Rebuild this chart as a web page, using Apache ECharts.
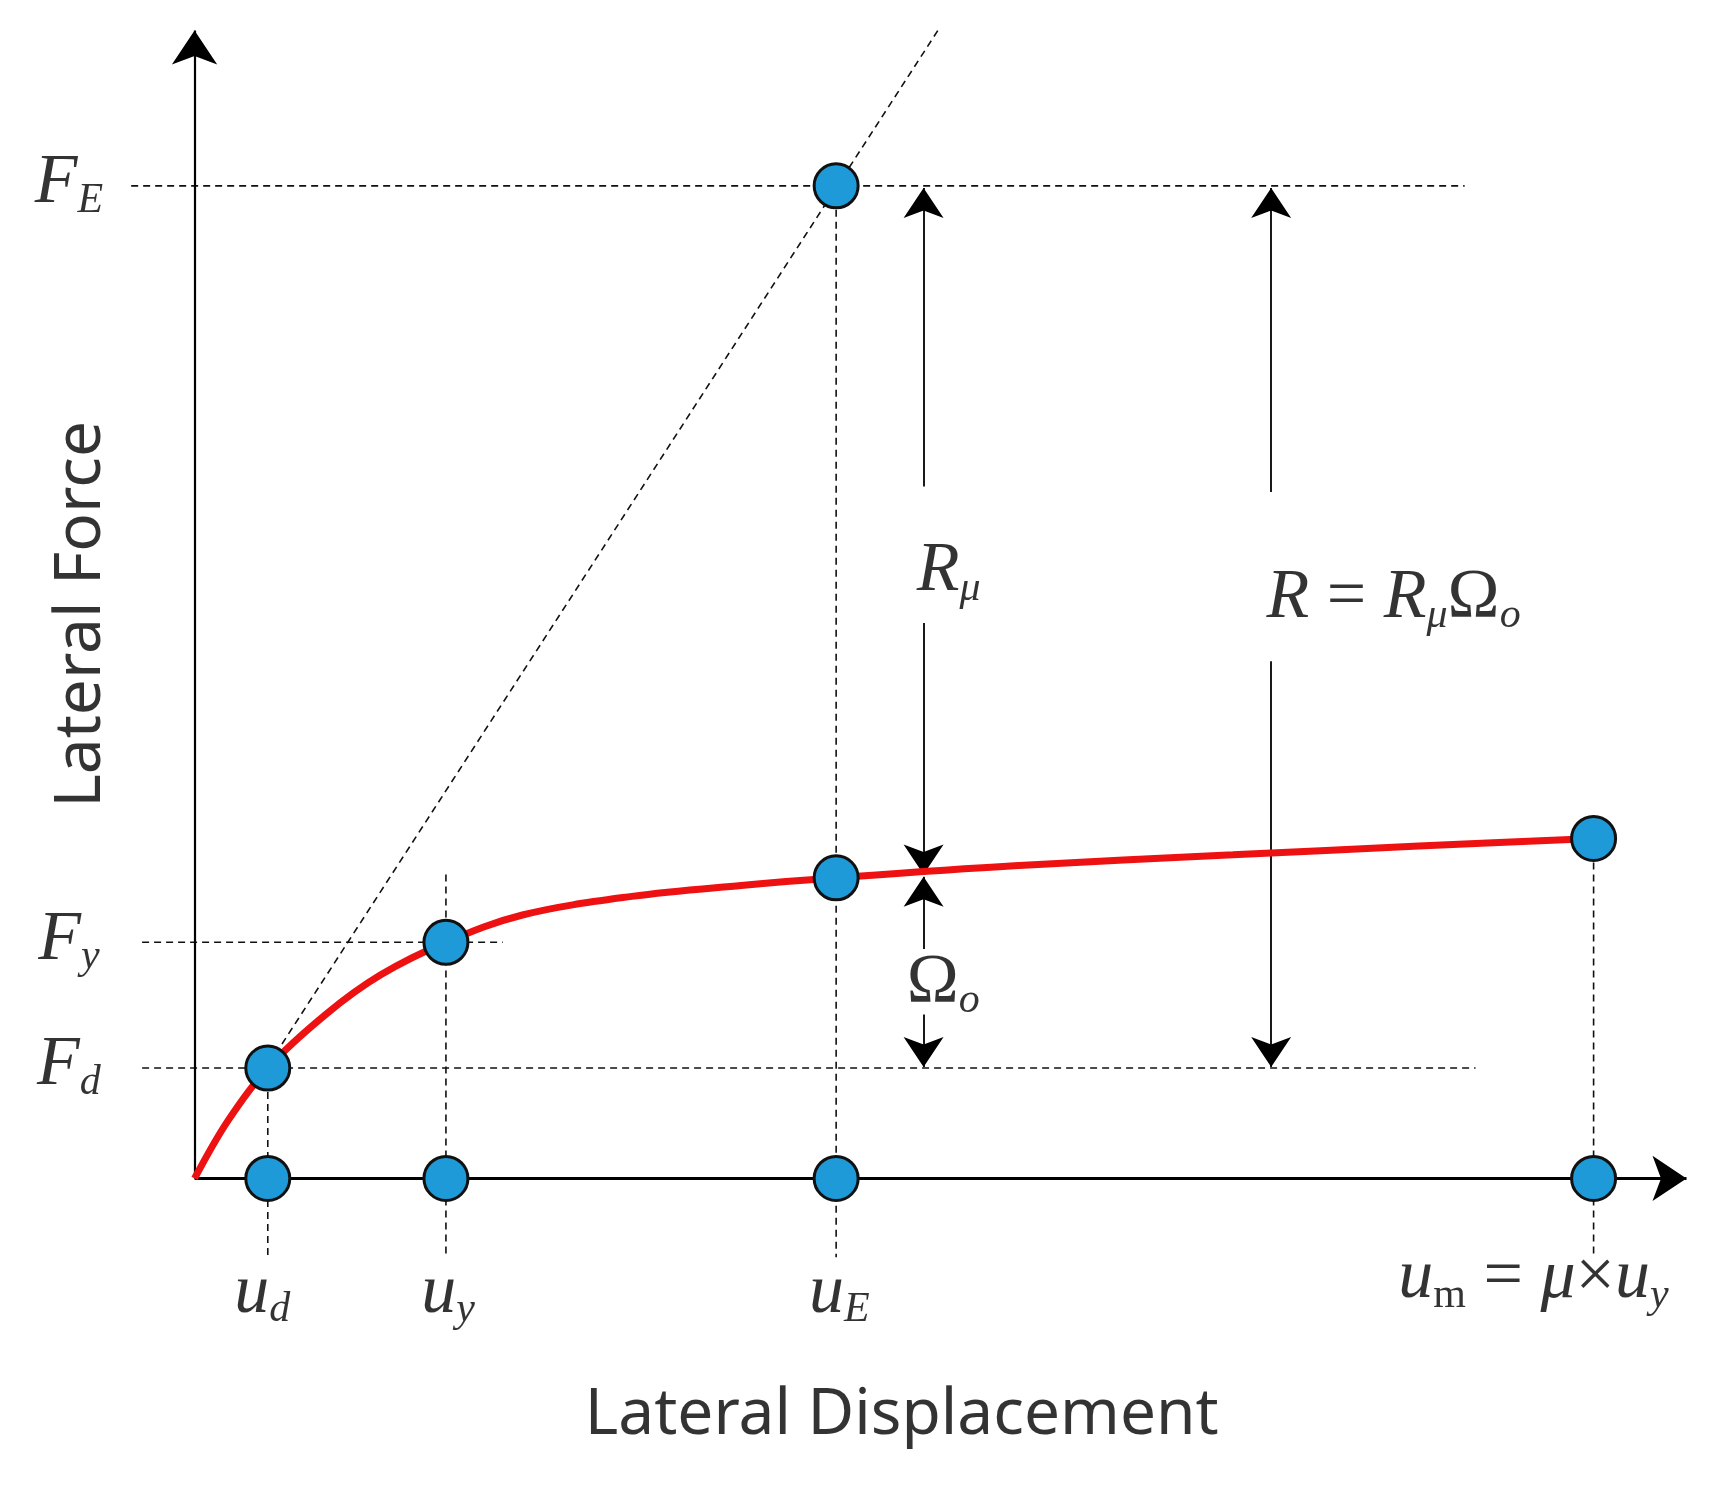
<!DOCTYPE html><html><head><meta charset="utf-8">
<script src="https://cdn.jsdelivr.net/npm/echarts@6/dist/echarts.min.js"></script>
<style>html,body{margin:0;background:#fff}#c{width:1710px;height:1490px}</style></head><body><div id="c"></div>
<script>
// key displacements and forces (arbitrary units)
const uD = 0.67, uY = 2.3, uE = 5.87, uM = 12.8;
const fD = 1.01, fY = 2.16, fEcurve = 2.75, fM = 3.11, fE = 9.08;
// capacity curve
const curve = [[0,0],[0.3,0.52],[0.67,1.01],[1.2,1.5],[1.7,1.86],[2.3,2.16],[3.0,2.41],[4.0,2.58],[5.0,2.68],[5.87,2.75],[7.5,2.86],[9.5,2.96],[11.2,3.04],[12.8,3.11]];
// elastic line
const elastic = [[0.8,1.23],[6.8,10.5]];
const points = [[uD,0],[uY,0],[uE,0],[uM,0],[uD,fD],[uY,fY],[uE,fEcurve],[uM,fM],[uE,fE]];

const serif = '"Liberation Serif","DejaVu Serif",serif';
const dash = (a,b) => ({type:'line',data:[a,b],symbol:'none',silent:true,lineStyle:{color:'#111',width:1.6,type:[7,5]},z:1});
const arrow = (a,b,w) => ({coords:[a,b],lineStyle:{width:w||1.8}});
const txt = (x,y,rich,fmt) => ({type:'scatter',data:[[x,y]],symbolSize:0,silent:true,z:10,
  label:{show:true,position:'inside',formatter:fmt,rich:rich,color:'#000'}});
const R = {
  b:{fontFamily:serif,fontStyle:'italic',fontSize:70,color:'#000'},
  s:{fontFamily:serif,fontStyle:'italic',fontSize:42,color:'#000',padding:[34,0,0,0]},
  n:{fontFamily:serif,fontSize:70,color:'#000'},
  sn:{fontFamily:serif,fontSize:42,color:'#000',padding:[34,0,0,0]}
};
const sans = '"Noto Sans","DejaVu Sans",sans-serif';
const chart = echarts.init(document.getElementById('c'));
chart.setOption({
  animation:false,
  grid:{left:0,right:0,top:0,bottom:0},
  xAxis:{type:'value',min:-1.78,max:13.865,show:false},
  yAxis:{type:'value',min:-2.85,max:10.78,show:false},
  series:[
    dash([-0.58,fE],[11.62,fE]),
    dash([-0.48,fY],[2.82,fY]),
    dash([-0.48,fD],[11.72,fD]),
    dash([uD,fD],[uD,-0.72]),
    dash([uY,2.78],[uY,-0.72]),
    dash([uE,fE],[uE,-0.72]),
    dash([uM,fM],[uM,-0.72]),
    {type:'line',data:elastic,symbol:'none',lineStyle:{color:'#111',width:1.6,type:[7,5]},z:1},
    {type:'line',data:curve,smooth:0.35,symbol:'none',lineStyle:{color:'#ee1111',width:7},z:3},
    {type:'lines',coordinateSystem:'cartesian2d',symbol:['none','arrow'],symbolSize:[16,34],z:2,
      lineStyle:{color:'#000',opacity:1},
      data:[arrow([0,0],[0,10.5],2.2),arrow([0,0],[13.65,0],3)]},
    {type:'lines',coordinateSystem:'cartesian2d',symbol:['none','arrow'],symbolSize:[10,30],z:2,
      lineStyle:{color:'#000',opacity:1},
      data:[arrow([6.67,6.33],[6.67,9.06]),arrow([6.67,5.08],[6.67,2.78]),
            arrow([6.67,2.1],[6.67,2.76]),arrow([6.67,1.5],[6.67,1.02]),
            arrow([9.85,6.28],[9.85,9.06]),arrow([9.85,4.73],[9.85,1.02])]},
    {type:'scatter',data:points,symbolSize:44,z:5,
      itemStyle:{color:'#1e9ad8',borderColor:'#111',borderWidth:3,opacity:1}},
    txt(-1.15,9.1,R,'{b|F}{s|E}'),
    txt(-1.15,2.18,R,'{b|F}{s|y}'),
    txt(-1.15,1.03,R,'{b|F}{s|d}'),
    txt(0.62,-1.05,R,'{b|u}{s|d}'),
    txt(2.32,-1.05,R,'{b|u}{s|y}'),
    txt(5.9,-1.05,R,'{b|u}{s|E}'),
    txt(12.25,-0.92,R,'{b|u}{sn|m}{n| = }{b|μ}{n|×}{b|u}{s|y}'),
    txt(6.9,5.55,R,'{b|R}{s|μ}'),
    txt(6.85,1.78,R,'{n|Ω}{s|o}'),
    txt(10.97,5.3,R,'{b|R}{n| = }{b|R}{s|μ}{n|Ω}{s|o}'),
    {type:'scatter',data:[[-1.03,5.16]],symbolSize:0,silent:true,
      label:{show:true,position:'inside',rotate:90,formatter:'Lateral Force',
        fontFamily:sans,fontSize:64,color:'#000'}},
    {type:'scatter',data:[[6.47,-2.17]],symbolSize:0,silent:true,
      label:{show:true,position:'inside',formatter:'Lateral Displacement',
        fontFamily:sans,fontSize:64,color:'#000'}}
  ]
});
</script></body></html>
